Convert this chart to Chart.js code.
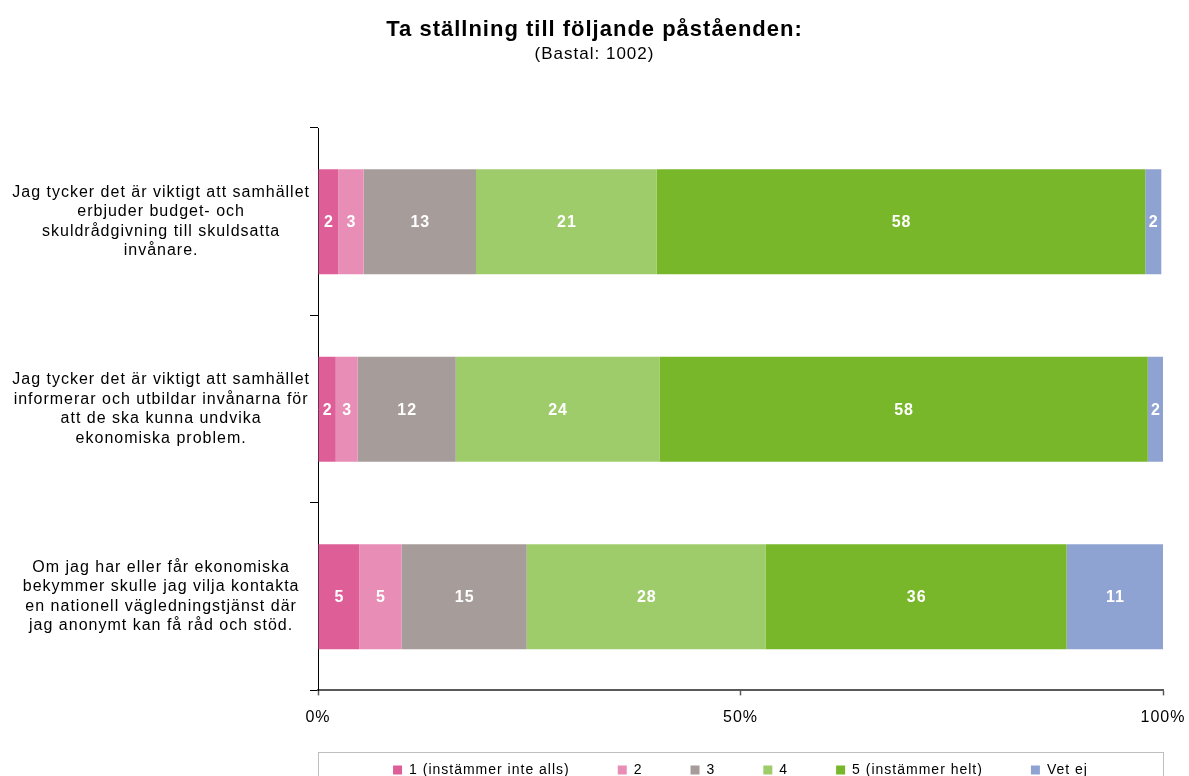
<!DOCTYPE html>
<html>
<head>
<meta charset="utf-8">
<script src="https://cdn.jsdelivr.net/npm/chart.js@4/dist/chart.umd.min.js"></script>
<style>
html, body { margin: 0; padding: 0; background: #fff; overflow: hidden; }
#wrap { width: 1189px; height: 787px; position: relative; }
</style>
</head>
<body>
<div id="wrap"><canvas id="chart"></canvas></div>
<script>
const statements = [
  ["Jag tycker det är viktigt att samhället", "erbjuder budget- och", "skuldrådgivning till skuldsatta", "invånare."],
  ["Jag tycker det är viktigt att samhället", "informerar och utbildar invånarna för", "att de ska kunna undvika", "ekonomiska problem."],
  ["Om jag har eller får ekonomiska", "bekymmer skulle jag vilja kontakta", "en nationell vägledningstjänst där", "jag anonymt kan få råd och stöd."]
];

const answerLabels = ["1 (instämmer inte alls)", "2", "3", "4", "5 (instämmer helt)", "Vet ej"];
const answerColors = ["#DE5F98", "#E78DB6", "#A69C9A", "#9FCC6B", "#78B72A", "#8FA3D2"];

// percent per answer, one entry per statement
const ans1 = [2.4, 2.1, 4.9];
const ans2 = [3.0, 2.6, 5.0];
const ans3 = [13.3, 11.6, 14.8];
const ans4 = [21.4, 24.1, 28.3];
const ans5 = [57.8, 57.8, 35.6];
const vetEj = [1.9, 1.8, 11.4];

const xTicks = [0, 50, 100];

const series = [ans1, ans2, ans3, ans4, ans5, vetEj];
const fontFam = "'Liberation Sans', Arial, sans-serif";
const spacing = "1px";

// the source renders its text a bit wide
const wideText = {
  id: "wideText",
  beforeUpdate(chart) { chart.ctx.letterSpacing = spacing; },
  beforeLayout(chart) { chart.ctx.letterSpacing = spacing; },
  beforeDraw(chart) { chart.ctx.letterSpacing = spacing; }
};

const valueLabels = {
  id: "valueLabels",
  afterDatasetsDraw(chart) {
    const ctx = chart.ctx;
    ctx.save();
    ctx.font = "bold 16px " + fontFam;
    ctx.fillStyle = "#fff";
    ctx.textAlign = "center";
    ctx.textBaseline = "middle";
    chart.data.datasets.forEach((ds, i) => {
      chart.getDatasetMeta(i).data.forEach((bar, j) => {
        const cx = (bar.x + bar.base) / 2;
        ctx.fillText(String(Math.round(ds.data[j])), cx + 0.5, bar.y + 1);
      });
    });
    ctx.restore();
  }
};

const legendFrame = {
  id: "legendFrame",
  afterDraw(chart) {
    const hb = chart.legend.legendHitBoxes[0];
    const a = chart.chartArea;
    const mid = hb.top + hb.height / 2;
    const ctx = chart.ctx;
    ctx.save();
    ctx.strokeStyle = "#BFBFBF";
    ctx.lineWidth = 1;
    ctx.strokeRect(a.left + 0.5, Math.round(mid - 18) + 0.5, a.right - a.left, 60);
    ctx.restore();
  }
};

new Chart(document.getElementById("chart"), {
  type: "bar",
  data: {
    labels: statements,
    datasets: series.map((vals, i) => ({
      label: answerLabels[i],
      data: vals,
      backgroundColor: answerColors[i],
      borderWidth: 0,
      barPercentage: 0.56,
      categoryPercentage: 1
    }))
  },
  options: {
    indexAxis: "y",
    responsive: true,
    maintainAspectRatio: false,
    animation: false,
    layout: { padding: 0 },
    scales: {
      x: {
        stacked: true,
        min: 0,
        max: 100,
        afterBuildTicks(scale) { scale.ticks = xTicks.map(v => ({ value: v })); },
        afterFit(scale) { scale.paddingRight = 26; },
        ticks: {
          callback: v => v + "%",
          color: "#000",
          font: { family: fontFam, size: 16 },
          padding: 13,
          maxRotation: 0
        },
        grid: { drawOnChartArea: false, tickLength: 5, color: "#595959", tickWidth: 1.5 },
        border: { color: "#595959", width: 2 }
      },
      y: {
        stacked: true,
        afterFit(scale) { scale.width = 318; },
        ticks: {
          crossAlign: "center",
          color: "#000",
          font: { family: fontFam, size: 16, lineHeight: 1.22 },
          padding: 0
        },
        grid: { drawOnChartArea: false, offset: true, tickLength: 8, color: "#000" },
        border: { color: "#000", width: 1 }
      }
    },
    plugins: {
      title: {
        display: true,
        text: "Ta ställning till följande påståenden:",
        color: "#000",
        font: { family: fontFam, size: 22, weight: "bold", lineHeight: 1.2 },
        padding: { top: 17, bottom: 1 }
      },
      subtitle: {
        display: true,
        text: "(Bastal: 1002)",
        color: "#000",
        font: { family: fontFam, size: 17, lineHeight: 1.2 },
        padding: { top: 0, bottom: 63.2 }
      },
      legend: {
        position: "bottom",
        fullSize: false,
        title: {
          display: true,
          text: "",
          font: { size: 10, lineHeight: 1 },
          padding: { top: -35.6, bottom: 0 }
        },
        labels: {
          boxWidth: 9,
          boxHeight: 9,
          padding: 48,
          color: "#000",
          font: { family: fontFam, size: 14 }
        }
      },
      tooltip: { enabled: false }
    }
  },
  plugins: [wideText, valueLabels, legendFrame]
});
</script>
</body>
</html>
